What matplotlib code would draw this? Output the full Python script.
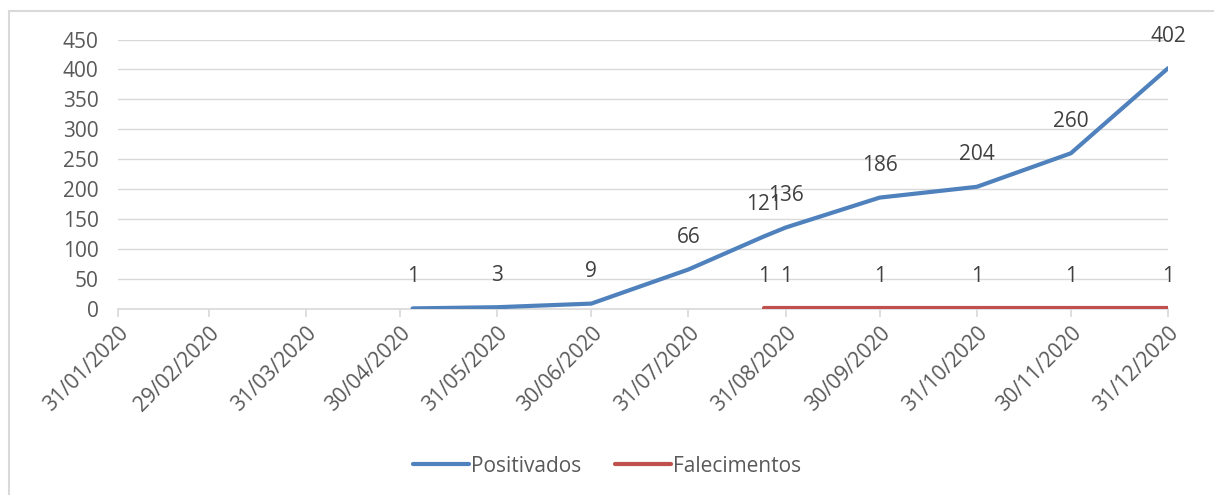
import matplotlib.pyplot as plt
import matplotlib.dates as mdates
from matplotlib.patches import Rectangle
import pandas as pd

# data
pos_dates = ["2020-05-04", "2020-05-31", "2020-06-30", "2020-07-31", "2020-08-24",
             "2020-08-31", "2020-09-30", "2020-10-31", "2020-11-30", "2020-12-31"]
pos_values = [1, 3, 9, 66, 121, 136, 186, 204, 260, 402]

fal_dates = ["2020-08-24", "2020-08-31", "2020-09-30", "2020-10-31", "2020-11-30", "2020-12-31"]
fal_values = [1, 1, 1, 1, 1, 1]

tick_dates = ["2020-01-31", "2020-02-29", "2020-03-31", "2020-04-30", "2020-05-31", "2020-06-30",
              "2020-07-31", "2020-08-31", "2020-09-30", "2020-10-31", "2020-11-30", "2020-12-31"]

BLUE = "#4F81BD"
RED = "#C0504D"
TXT = "#595959"
GRID = "#D9D9D9"

plt.rcParams['font.family'] = ['Open Sans', 'DejaVu Sans']

fig = plt.figure(figsize=(12.14, 4.95), dpi=100)
ax = fig.add_axes([118 / 1214, 1 - 309 / 495, 1050 / 1214, 269.5 / 495])

pos_x = pd.to_datetime(pos_dates)
fal_x = pd.to_datetime(fal_dates)
ticks = pd.to_datetime(tick_dates)

ax.plot(pos_x, pos_values, color=BLUE, lw=3.0, solid_capstyle='round', label='Positivados', zorder=3)
ax.plot(fal_x, fal_values, color=RED, lw=3.0, solid_capstyle='round', label='Falecimentos', zorder=3)

# data labels above each point
for x, v in zip(pos_x, pos_values):
    ax.annotate(str(v), (x, v), xytext=(0, 32), textcoords='offset pixels',
                ha='center', va='center', fontsize=15, color='#404040')
for x, v in zip(fal_x, fal_values):
    ax.annotate(str(v), (x, v), xytext=(0, 32), textcoords='offset pixels',
                ha='center', va='center', fontsize=15, color='#404040')

ax.set_xlim(ticks[0], ticks[-1])
ax.set_ylim(0, 450)
ax.set_yticks(range(0, 451, 50))
ax.yaxis.grid(True, color=GRID, lw=1)
ax.set_axisbelow(True)

ax.set_xticks(ticks)
ax.xaxis.set_major_formatter(mdates.DateFormatter('%d/%m/%Y'))
plt.setp(ax.get_xticklabels(), rotation=45, ha='right', rotation_mode='anchor')

for s in ['left', 'right', 'top']:
    ax.spines[s].set_visible(False)
ax.spines['bottom'].set_color(GRID)
ax.spines['bottom'].set_linewidth(1.2)
ax.tick_params(axis='x', colors=GRID, labelcolor=TXT, labelsize=15, length=6, width=1.2, pad=4)
ax.tick_params(axis='y', length=0, labelcolor=TXT, labelsize=15, pad=14)

fig.legend(loc='center', bbox_to_anchor=(0.5, 1 - 466 / 495), ncol=2, frameon=False,
           fontsize=15, labelcolor=TXT, handlelength=2.7, handletextpad=0.1, columnspacing=1.6)

fig.patches.append(Rectangle((8.5 / 1214, -0.01), 1.1, 1 - 10.5 / 495 + 0.01, transform=fig.transFigure,
                             fill=False, edgecolor=GRID, lw=1.5))

fig.savefig('out.png', dpi=100)
